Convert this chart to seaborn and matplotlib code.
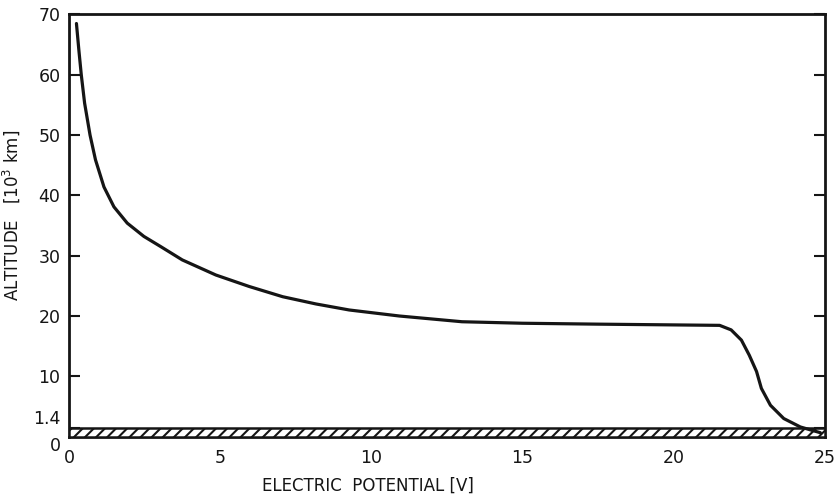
import matplotlib
matplotlib.use("Agg")
import matplotlib.pyplot as plt
import seaborn as sns
import pandas as pd

potential = [0.25, 0.33, 0.41, 0.52, 0.70, 0.88, 1.16, 1.49, 1.93, 2.48, 3.04,
             3.75, 4.86, 5.96, 7.07, 8.17, 9.27, 10.93, 13.0, 15.0, 17.5,
             20.5, 21.52, 21.9, 22.24, 22.5, 22.74, 22.9, 23.2, 23.64, 24.19,
             24.85]
altitude = [68.5, 64.1, 60.0, 55.3, 50.0, 45.9, 41.4, 38.1, 35.4, 33.2, 31.5,
            29.3, 26.8, 24.9, 23.2, 22.0, 21.0, 20.0, 19.05, 18.8, 18.65,
            18.5, 18.45, 17.7, 16.0, 13.5, 10.8, 8.0, 5.2, 3.0, 1.6,
            0.65]
ground_top = 1.4
x_ticks = [0, 5, 10, 15, 20, 25]
y_ticks = [0, 1.4, 10, 20, 30, 40, 50, 60, 70]
y_tick_labels = ["0", "1.4", "10", "20", "30", "40", "50", "60", "70"]

sns.set_style("ticks")
plt.rcParams['font.family'] = ['DejaVu Sans']
plt.rcParams['hatch.linewidth'] = 1.5

fig = plt.figure(figsize=(8.4, 4.99), dpi=100)
ax = fig.add_axes([0.082, 0.125, 0.900, 0.846])

df = pd.DataFrame({"potential": potential, "altitude": altitude})
sns.lineplot(data=df, x="potential", y="altitude", sort=False, ax=ax,
             color="#151515", linewidth=2.3, estimator=None, zorder=5,
             solid_joinstyle="round", solid_capstyle="round")

ax.fill_between([0, 25], 0, ground_top, facecolor="white", edgecolor="#151515",
                hatch="///", linewidth=1.8, zorder=3)

ax.set_xlim(0, 25)
ax.set_ylim(0, 70)
ax.set_xticks(x_ticks)
ax.set_yticks(y_ticks)
ax.set_yticklabels(y_tick_labels)
for lbl in ax.get_yticklabels():
    if lbl.get_text() == "1.4":
        lbl.set_fontsize(10)
        lbl.set_verticalalignment("bottom")
    if lbl.get_text() == "0":
        lbl.set_verticalalignment("top")

ax.tick_params(axis="y", direction="in", length=8, width=1.5, labelsize=12.5,
               right=True, pad=6, colors="#151515")
ax.tick_params(axis="x", direction="in", length=0, labelsize=12.5, pad=9,
               colors="#151515")

for s in ax.spines.values():
    s.set_visible(True)
    s.set_linewidth(2.0)
    s.set_color("#151515")

ax.set_xlabel("ELECTRIC  POTENTIAL [V]", fontsize=12, color="#151515")
ax.set_ylabel("ALTITUDE   [10$^3$ km]", fontsize=12, color="#151515")
ax.xaxis.set_label_coords(0.395, -0.095)
ax.yaxis.set_label_coords(-0.062, 0.525)

fig.savefig("out.png", dpi=100)
